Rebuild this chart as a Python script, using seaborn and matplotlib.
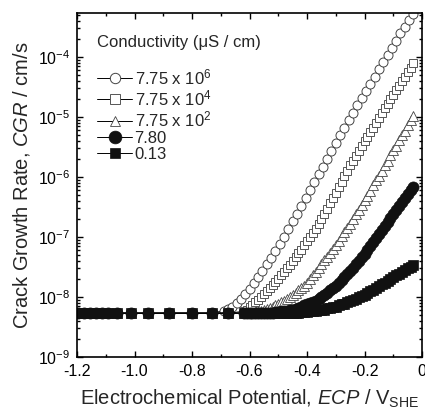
import numpy as np
import matplotlib
matplotlib.use('Agg')
import matplotlib.pyplot as plt
from matplotlib.ticker import MultipleLocator, FuncFormatter, LogLocator
import seaborn as sns

# ECP values (V_SHE) of the points on the common low-potential plateau
ECP_FLAT = [-1.195, -1.175, -1.154, -1.133, -1.112, -1.091, -1.062, -1.012,
            -0.954, -0.879, -0.799, -0.732, -0.674]
LOG_FLAT = [-8.27, -8.27, -8.27, -8.27, -8.27, -8.27, -8.27, -8.27,
            -8.27, -8.27, -8.27, -8.27, -8.27]

# 7.75e6 uS/cm series (open circles), rising part
ECP_HIGH = [-0.690, -0.675, -0.660, -0.645, -0.630, -0.615, -0.600, -0.585, -0.570, -0.555,
            -0.540, -0.525, -0.510, -0.495, -0.480, -0.465, -0.450, -0.435, -0.420, -0.405,
            -0.390, -0.375, -0.360, -0.345, -0.330, -0.315, -0.300, -0.285, -0.270, -0.255,
            -0.240, -0.225, -0.210, -0.195, -0.180, -0.165, -0.150, -0.135, -0.120, -0.105,
            -0.090, -0.075, -0.060, -0.045, -0.030]
LOG_775E6 = [-8.23, -8.20, -8.16, -8.10, -8.03, -7.95, -7.86, -7.76, -7.66, -7.56,
             -7.45, -7.35, -7.24, -7.12, -7.00, -6.87, -6.74, -6.61, -6.48, -6.35,
             -6.22, -6.09, -5.96, -5.83, -5.70, -5.57, -5.44, -5.31, -5.18, -5.05,
             -4.93, -4.81, -4.69, -4.57, -4.45, -4.33, -4.21, -4.09, -3.97, -3.85,
             -3.73, -3.61, -3.50, -3.39, -3.28]

# common fine ECP grid for the other four series
ECP_FINE = [-0.62, -0.61, -0.60, -0.59, -0.58, -0.57, -0.56, -0.55, -0.54, -0.53,
            -0.52, -0.51, -0.50, -0.49, -0.48, -0.47, -0.46, -0.45, -0.44, -0.43,
            -0.42, -0.41, -0.40, -0.39, -0.38, -0.37, -0.36, -0.35, -0.34, -0.33,
            -0.32, -0.31, -0.30, -0.29, -0.28, -0.27, -0.26, -0.25, -0.24, -0.23,
            -0.22, -0.21, -0.20, -0.19, -0.18, -0.17, -0.16, -0.15, -0.14, -0.13,
            -0.12, -0.11, -0.10, -0.09, -0.08, -0.07, -0.06, -0.05, -0.04, -0.03]
LOG_775E4 = [-8.24, -8.21, -8.17, -8.13, -8.09, -8.05, -8.00, -7.95, -7.90, -7.85,
             -7.80, -7.75, -7.70, -7.64, -7.58, -7.52, -7.46, -7.40, -7.34, -7.27,
             -7.21, -7.14, -7.07, -7.00, -6.93, -6.86, -6.78, -6.70, -6.62, -6.53,
             -6.44, -6.35, -6.26, -6.17, -6.08, -5.99, -5.90, -5.81, -5.73, -5.65,
             -5.57, -5.49, -5.41, -5.33, -5.25, -5.18, -5.10, -5.02, -4.94, -4.86,
             -4.78, -4.71, -4.63, -4.55, -4.48, -4.40, -4.33, -4.25, -4.18, -4.11]
LOG_775E2 = [-8.27, -8.27, -8.26, -8.26, -8.25, -8.24, -8.23, -8.22, -8.20, -8.18,
             -8.16, -8.14, -8.12, -8.09, -8.06, -8.03, -8.00, -7.97, -7.93, -7.89,
             -7.85, -7.81, -7.76, -7.70, -7.64, -7.58, -7.52, -7.45, -7.39, -7.33,
             -7.26, -7.20, -7.13, -7.06, -6.99, -6.92, -6.85, -6.78, -6.70, -6.62,
             -6.55, -6.47, -6.39, -6.31, -6.23, -6.14, -6.06, -5.98, -5.90, -5.81,
             -5.73, -5.64, -5.56, -5.48, -5.39, -5.31, -5.23, -5.14, -5.06, -4.98]
LOG_780 = [-8.27, -8.27, -8.27, -8.27, -8.27, -8.27, -8.27, -8.26, -8.26, -8.26,
           -8.26, -8.25, -8.25, -8.24, -8.24, -8.23, -8.22, -8.21, -8.20, -8.18,
           -8.16, -8.14, -8.12, -8.10, -8.08, -8.06, -8.03, -8.00, -7.97, -7.93,
           -7.89, -7.85, -7.81, -7.77, -7.72, -7.67, -7.62, -7.57, -7.51, -7.45,
           -7.40, -7.34, -7.28, -7.22, -7.15, -7.09, -7.02, -6.95, -6.89, -6.82,
           -6.75, -6.68, -6.61, -6.55, -6.48, -6.41, -6.35, -6.29, -6.22, -6.16]
LOG_013 = [-8.27, -8.27, -8.27, -8.27, -8.27, -8.27, -8.27, -8.27, -8.27, -8.27,
           -8.27, -8.27, -8.27, -8.27, -8.27, -8.26, -8.26, -8.26, -8.26, -8.26,
           -8.25, -8.25, -8.25, -8.24, -8.24, -8.23, -8.22, -8.22, -8.21, -8.19,
           -8.18, -8.17, -8.16, -8.14, -8.12, -8.11, -8.09, -8.07, -8.05, -8.03,
           -8.00, -7.98, -7.96, -7.93, -7.90, -7.88, -7.85, -7.82, -7.79, -7.76,
           -7.73, -7.70, -7.67, -7.64, -7.61, -7.58, -7.55, -7.52, -7.50, -7.47]

LABELS = ['7.75 x 10$^{6}$', '7.75 x 10$^{4}$', '7.75 x 10$^{2}$', '7.80', '0.13']
X_TICKS = [-1.2, -1.0, -0.8, -0.6, -0.4, -0.2, 0.0]

series = [
    (ECP_FLAT[:12] + ECP_HIGH, LOG_FLAT[:12] + LOG_775E6,
     dict(marker='o', markersize=6.5, markerfacecolor='white', markeredgecolor='#444444', markeredgewidth=0.7)),
    (ECP_FLAT + ECP_FINE, LOG_FLAT + LOG_775E4,
     dict(marker='s', markersize=5.8, markerfacecolor='white', markeredgecolor='#555555', markeredgewidth=0.7)),
    (ECP_FLAT + ECP_FINE, LOG_FLAT + LOG_775E2,
     dict(marker='^', markersize=6.5, markerfacecolor='white', markeredgecolor='#444444', markeredgewidth=0.6)),
    (ECP_FLAT + ECP_FINE, LOG_FLAT + LOG_780,
     dict(marker='o', markersize=8, markerfacecolor='#111111', markeredgecolor='#111111', markeredgewidth=0.5)),
    (ECP_FLAT + ECP_FINE, LOG_FLAT + LOG_013,
     dict(marker='s', markersize=6.8, markerfacecolor='#111111', markeredgecolor='#111111', markeredgewidth=0.5)),
]

sns.set_style('ticks')
plt.rcParams['font.family'] = ['Liberation Sans', 'DejaVu Sans']
plt.rcParams['mathtext.fontset'] = 'custom'
plt.rcParams['mathtext.rm'] = 'Liberation Sans'
plt.rcParams['mathtext.it'] = 'Liberation Sans:italic'
plt.rcParams['axes.unicode_minus'] = False

fig = plt.figure(figsize=(4.25, 4.19), dpi=100)
ax = fig.add_axes([77 / 425, 1 - 357 / 419, 345 / 425, 344 / 419])

for ecp, logcgr, style in series:
    sns.lineplot(x=ecp, y=10 ** np.array(logcgr), ax=ax, sort=False, estimator=None,
                 color='black', linewidth=0.7, legend=False, **style)

ax.set_yscale('log')
ax.set_xlim(-1.2, 0)
ax.set_ylim(1e-9, 10 ** -3.27)

ax.set_xticks(X_TICKS)
ax.xaxis.set_major_formatter(FuncFormatter(lambda v, p: '0' if abs(v) < 1e-9 else '%.1f' % v))
ax.xaxis.set_minor_locator(MultipleLocator(0.1))
ax.yaxis.set_major_locator(LogLocator(base=10, numticks=15))
ax.yaxis.set_minor_locator(LogLocator(base=10, subs=np.arange(2, 10), numticks=15))

ax.tick_params(which='both', direction='in', top=True, right=True, width=1.0, colors='black')
ax.tick_params(which='major', length=4, labelsize=11.5, pad=5)
ax.tick_params(which='minor', length=2.2)
for s in ax.spines.values():
    s.set_linewidth(1.2)
    s.set_color('black')

ax.set_xlabel('Electrochemical Potential, $\\mathit{ECP}$ / V$_{\\mathrm{SHE}}$', fontsize=14.5)
ax.set_ylabel('Crack Growth Rate, $\\mathit{CGR}$ / cm/s', fontsize=14.5)
ax.xaxis.set_label_coords(0.5, -0.09)
ax.yaxis.set_label_coords(-0.13, 0.5)

ax.text(0.058, 0.915, 'Conductivity (\u03bcS / cm)', transform=ax.transAxes,
        fontsize=12, ha='left', va='center')
leg = ax.legend(ax.get_lines(), LABELS, loc='upper left', bbox_to_anchor=(0.058, 0.843),
                frameon=False, fontsize=12, handlelength=2.1, handletextpad=0.15,
                labelspacing=0.08, borderpad=0, borderaxespad=0, markerscale=1.15)

fig.savefig('out.png', dpi=100)
